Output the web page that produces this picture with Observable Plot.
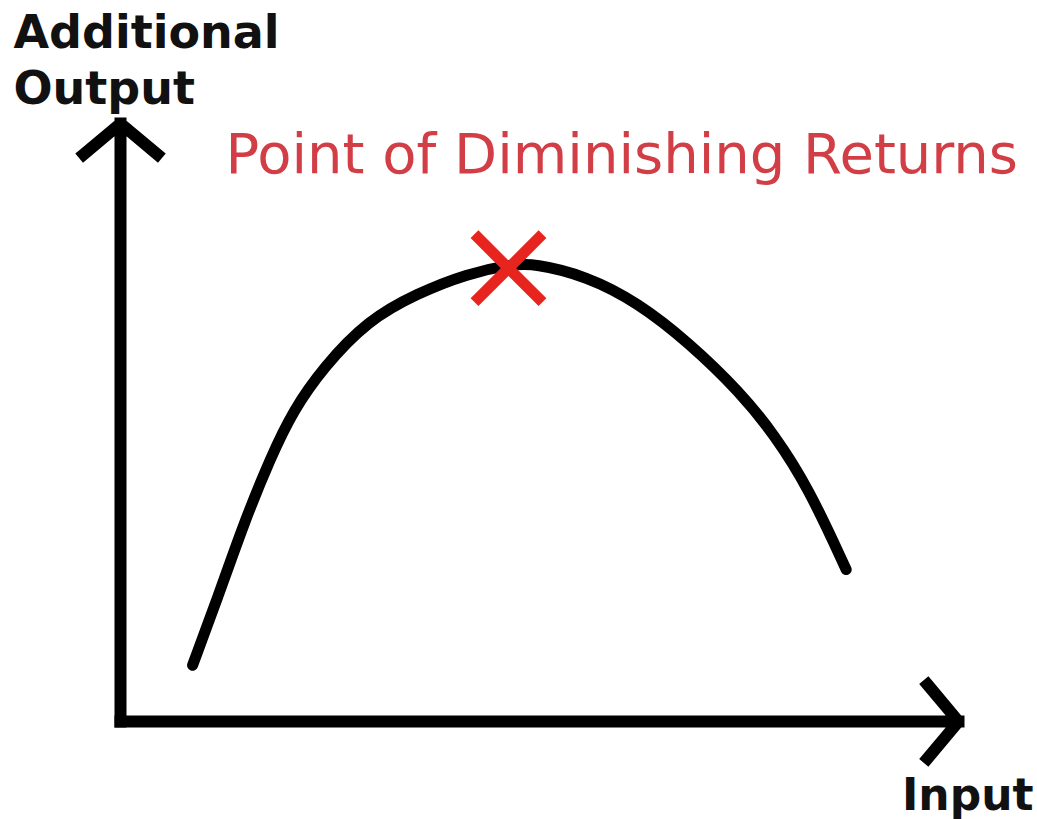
<!DOCTYPE html>
<html>
<head>
<meta charset="utf-8">
<script src="https://cdn.jsdelivr.net/npm/d3@7"></script>
<script src="https://cdn.jsdelivr.net/npm/@observablehq/plot@0.6"></script>
<style>
  html, body { margin: 0; padding: 0; background: #fff; }
  #chart svg { display: block; }
</style>
</head>
<body>
<div id="chart"></div>
<script>
// Curve: additional output as input grows
const inputValues  = [0.86, 1.16, 1.47, 1.79, 2.06, 2.42, 2.95, 3.54, 4.14, 4.65, 4.94, 5.56, 6.17, 6.78, 7.40, 7.80, 8.21, 8.66];
const outputValues = [0.94, 2.07, 3.31, 4.41, 5.20, 5.92, 6.71, 7.16, 7.49, 7.64, 7.66, 7.45, 7.01, 6.34, 5.50, 4.80, 3.91, 2.54];

// Point of diminishing returns
const peakInput = [4.63];
const peakOutput = [7.58];

// Axes (arrows)
const axisFromX = [0, 0];
const axisFromY = [0, 0];
const axisToX = [0, 10];
const axisToY = [10, 0];

// Texts
const yLabel = "Additional\nOutput";
const xLabel = "Input";
const peakLabel = "Point of Diminishing Returns";

const curve = inputValues.map((x, i) => ({x, y: outputValues[i]}));
const peak = peakInput.map((x, i) => ({x, y: peakOutput[i]}));
const axes = axisFromX.map((x1, i) => ({x1, y1: axisFromY[i], x2: axisToX[i], y2: axisToY[i]}));

const chart = Plot.plot({
  width: 1037,
  height: 819,
  marginLeft: 120,
  marginRight: 79,
  marginTop: 123,
  marginBottom: 98,
  x: {domain: [0, 10], axis: null},
  y: {domain: [0, 10], axis: null},
  style: {background: "#fff", fontFamily: "DejaVu Sans"},
  marks: [
    Plot.arrow(axes, {
      x1: "x1", y1: "y1", x2: "x2", y2: "y2",
      stroke: "#000", strokeWidth: 12, headLength: 6, headAngle: 100,
      strokeLinecap: "square", strokeLinejoin: "miter"
    }),
    Plot.line(curve, {x: "x", y: "y", curve: "basis", stroke: "#000", strokeWidth: 11, strokeLinecap: "round"}),
    Plot.dot(peak, {x: "x", y: "y", symbol: "times", r: 31, stroke: "#e8241e", strokeWidth: 11}),
    Plot.text([yLabel], {
      text: d => d, frameAnchor: "top-left", dx: -107, dy: -20,
      textAnchor: "start", lineAnchor: "bottom", lineHeight: 1.2,
      fontFamily: "DejaVu Sans", fontWeight: "bold", fontSize: 46, fill: "#111"
    }),
    Plot.text([peakLabel], {
      text: d => d, frameAnchor: "top-left", dx: 105, dy: 49,
      textAnchor: "start", lineAnchor: "bottom",
      fontFamily: "DejaVu Sans", fontSize: 56, fill: "#d23e46"
    }),
    Plot.text([xLabel], {
      text: d => d, frameAnchor: "bottom-right", dx: 75, dy: 88,
      textAnchor: "end", lineAnchor: "bottom",
      fontFamily: "DejaVu Sans", fontWeight: "bold", fontSize: 44, fill: "#111"
    })
  ]
});
document.getElementById("chart").appendChild(chart);
</script>
</body>
</html>
